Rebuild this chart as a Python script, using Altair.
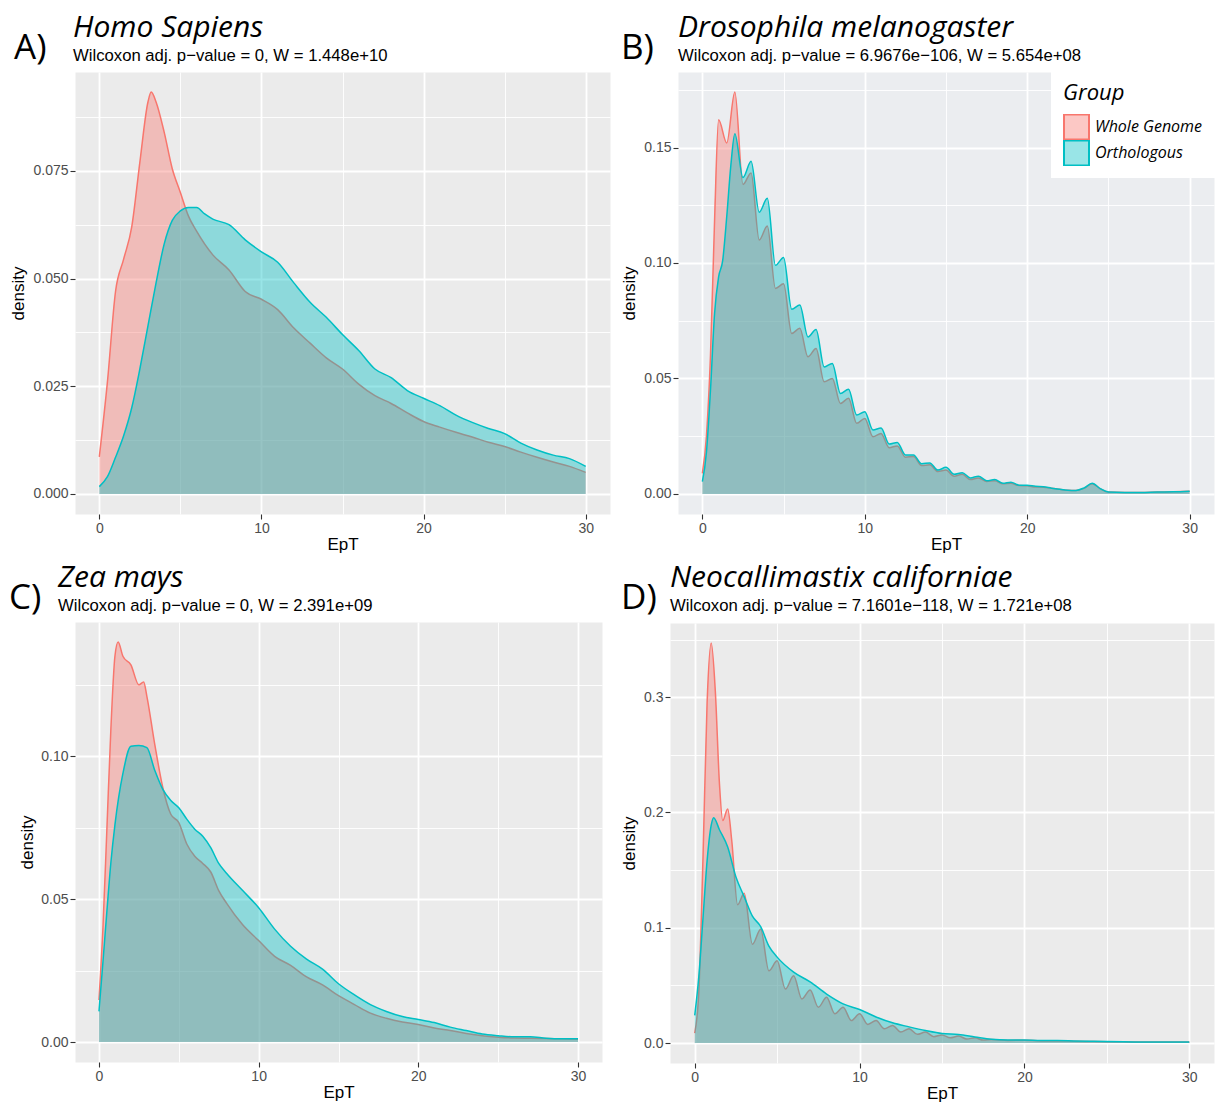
import altair as alt
import pandas as pd

GROUPS = ["Whole Genome", "Orthologous"]
FILL_COLORS = ["rgba(248,118,109,0.4)", "rgba(0,191,196,0.4)"]
LINE_COLORS = ["#F8766D", "#00BFC4"]

LETTERS = ["A)", "B)", "C)", "D)"]
TITLES = ["Homo Sapiens", "Drosophila melanogaster", "Zea mays", "Neocallimastix californiae"]
SUBTITLES = [
    "Wilcoxon adj. p\u2212value = 0, W = 1.448e+10",
    "Wilcoxon adj. p\u2212value = 6.9676e\u2212106, W = 5.654e+08",
    "Wilcoxon adj. p\u2212value = 0, W = 2.391e+09",
    "Wilcoxon adj. p\u2212value = 7.1601e\u2212118, W = 1.721e+08",
]
X_TICKS = [0, 10, 20, 30]
X_MINOR = [5, 15, 25]

# ---------------- Panel A: Homo Sapiens ----------------
a_wg_x = [0, 0.5, 1, 1.5, 2, 2.5, 3, 3.2, 3.5, 4, 4.5, 5, 5.5, 6, 7, 8, 9, 10, 11, 12, 13, 14, 15,
          16, 17, 18, 19, 20, 21, 22, 23, 24, 25, 26, 27, 28, 29, 30]
a_wg_y = [0.0086, 0.026, 0.047, 0.0545, 0.062, 0.077, 0.091, 0.0933, 0.091, 0.084, 0.0755, 0.070,
          0.0645, 0.061, 0.0555, 0.052, 0.047, 0.0452, 0.0428, 0.0385, 0.0350, 0.0316, 0.0290,
          0.0255, 0.0228, 0.0210, 0.0188, 0.0168, 0.0155, 0.0143, 0.0132, 0.0120, 0.0110,
          0.0097, 0.0085, 0.0074, 0.0064, 0.0050]
a_or_x = [0, 0.5, 1, 1.5, 2, 2.5, 3, 3.5, 4, 4.5, 5, 5.5, 6, 6.5, 7, 8, 9, 10, 11, 12, 13, 14, 15,
          16, 17, 18, 19, 20, 21, 22, 23, 24, 25, 26, 27, 28, 29, 30]
a_or_y = [0.0017, 0.004, 0.0085, 0.0135, 0.020, 0.029, 0.039, 0.049, 0.058, 0.0635, 0.0657, 0.0665,
          0.0665, 0.065, 0.0638, 0.0625, 0.059, 0.0562, 0.0538, 0.0490, 0.0445, 0.0410, 0.0370,
          0.0333, 0.0290, 0.0270, 0.0240, 0.0222, 0.0205, 0.0183, 0.0166, 0.0152, 0.0140,
          0.0118, 0.0102, 0.0090, 0.0082, 0.0064]
a_y_ticks = [0, 0.025, 0.05, 0.075]
a_y_minor = [0.0125, 0.0375, 0.0625, 0.0875]

# ---------------- Panel B: Drosophila melanogaster ----------------
b_wg_x = [0, 0.25, 0.5, 0.75, 1, 1.5, 2, 2.5, 3, 3.5, 4, 4.5, 5, 5.5, 6, 6.5, 7, 7.5, 8, 8.5, 9,
          9.5, 10, 10.5, 11, 11.5, 12, 12.5, 13, 13.5, 14, 14.5, 15, 15.5, 16, 16.5, 17, 17.5, 18,
          18.5, 19, 19.5, 20, 20.5, 21, 21.5, 22, 22.5, 23, 23.5, 24, 24.5, 25, 26, 27, 28, 29, 30]
b_wg_y = [0.0089, 0.025, 0.060, 0.118, 0.162, 0.152, 0.174, 0.134, 0.139, 0.110, 0.116, 0.089,
          0.091, 0.0695, 0.0717, 0.0594, 0.063, 0.0486, 0.050, 0.0392, 0.0414, 0.0306, 0.0327,
          0.0248, 0.0262, 0.020, 0.0208, 0.0159, 0.0162, 0.0123, 0.0126, 0.0097, 0.0103, 0.0077,
          0.0085, 0.0062, 0.0069, 0.0054, 0.0057, 0.0044, 0.0046, 0.0036, 0.0035, 0.0030, 0.0029,
          0.0024, 0.0020, 0.0016, 0.0015, 0.0024, 0.0044, 0.0022, 0.0008, 0.0006, 0.0006, 0.0008,
          0.0009, 0.0011]
b_or_x = [0, 0.25, 0.5, 0.75, 1, 1.25, 1.5, 1.75, 2, 2.5, 3, 3.5, 4, 4.5, 5, 5.5, 6, 6.5, 7, 7.5, 8,
          8.5, 9, 9.5, 10, 10.5, 11, 11.5, 12, 12.5, 13, 13.5, 14, 14.5, 15, 15.5, 16, 16.5, 17,
          17.5, 18, 18.5, 19, 19.5, 20, 20.5, 21, 21.5, 22, 22.5, 23, 23.5, 24, 24.5, 25, 26, 27,
          28, 29, 30]
b_or_y = [0.0053, 0.018, 0.045, 0.078, 0.094, 0.101, 0.120, 0.142, 0.156, 0.137, 0.144, 0.122,
          0.128, 0.099, 0.1024, 0.080, 0.0818, 0.068, 0.0712, 0.055, 0.0565, 0.0435, 0.0453,
          0.0342, 0.0356, 0.0277, 0.0285, 0.0216, 0.0223, 0.0169, 0.0169, 0.0131, 0.0134, 0.0103,
          0.0115, 0.0085, 0.0092, 0.0069, 0.0077, 0.0057, 0.0062, 0.0046, 0.0051, 0.0038, 0.0038,
          0.0033, 0.0031, 0.0025, 0.0020, 0.0016, 0.0015, 0.0026, 0.0046, 0.0023, 0.0008, 0.0006,
          0.0006, 0.0008, 0.0009, 0.0012]
b_y_ticks = [0, 0.05, 0.10, 0.15]
b_y_minor = [0.025, 0.075, 0.125, 0.175]

# ---------------- Panel C: Zea mays ----------------
c_wg_x = [0, 0.25, 0.5, 0.75, 1, 1.2, 1.5, 2, 2.5, 2.8, 3, 3.5, 4, 4.5, 5, 5.5, 6, 6.5, 7, 7.5, 8,
          9, 10, 11, 12, 13, 14, 15, 16, 17, 18, 19, 20, 21, 22, 23, 24, 25, 26, 27, 28, 29, 30]
c_wg_y = [0.0147, 0.040, 0.075, 0.110, 0.135, 0.140, 0.135, 0.132, 0.125, 0.126, 0.121, 0.104,
          0.089, 0.0797, 0.0768, 0.0693, 0.065, 0.0625, 0.0595, 0.0530, 0.0485, 0.0410, 0.0355,
          0.0300, 0.0268, 0.0228, 0.0200, 0.0162, 0.0131, 0.0101, 0.0083, 0.0070, 0.0061, 0.0049,
          0.0040, 0.0030, 0.0022, 0.0017, 0.0014, 0.0013, 0.0012, 0.0011, 0.0010]
c_or_x = [0, 0.25, 0.5, 0.75, 1, 1.5, 2, 2.5, 3, 3.5, 4, 4.5, 5, 5.5, 6, 6.5, 7, 7.5, 8, 9, 10, 11,
          12, 13, 14, 15, 16, 17, 18, 19, 20, 21, 22, 23, 24, 25, 26, 27, 28, 29, 30]
c_or_y = [0.0107, 0.028, 0.046, 0.063, 0.076, 0.094, 0.1035, 0.1038, 0.1030, 0.095, 0.0884, 0.0845,
          0.082, 0.078, 0.0745, 0.072, 0.068, 0.0625, 0.059, 0.0530, 0.0470, 0.0395, 0.0335,
          0.0290, 0.0255, 0.0204, 0.0165, 0.0131, 0.0107, 0.0089, 0.0079, 0.0068, 0.0052, 0.0040,
          0.0028, 0.0022, 0.0018, 0.0018, 0.0013, 0.0011, 0.0011]
c_y_ticks = [0, 0.05, 0.10]
c_y_minor = [0.025, 0.075, 0.125]

# ---------------- Panel D: Neocallimastix californiae ----------------
d_wg_x = [0, 0.25, 0.5, 0.75, 1, 1.25, 1.5, 1.7, 2, 2.25, 2.6, 3, 3.5, 4, 4.5, 5, 5.5, 6, 6.5, 7,
          7.5, 8, 8.5, 9, 9.5, 10, 10.5, 11, 11.5, 12, 12.5, 13, 13.5, 14, 14.5, 15, 15.5, 16,
          16.5, 17, 17.5, 18, 19, 20, 21, 22, 23, 24, 25, 26, 27, 28, 29, 30]
d_wg_y = [0.0086, 0.045, 0.16, 0.295, 0.347, 0.305, 0.225, 0.193, 0.203, 0.175, 0.120, 0.130,
          0.0856, 0.0986, 0.0626, 0.0713, 0.0468, 0.0583, 0.0382, 0.046, 0.031, 0.0397, 0.0253,
          0.031, 0.0195, 0.0253, 0.0161, 0.0195, 0.0124, 0.0152, 0.0095, 0.0124, 0.0075, 0.0095,
          0.0055, 0.0070, 0.0045, 0.0060, 0.0035, 0.0045, 0.0025, 0.0030, 0.0022, 0.0024, 0.0018,
          0.0018, 0.0015, 0.0013, 0.0011, 0.0010, 0.0009, 0.0008, 0.0008, 0.0008]
d_or_x = [0, 0.25, 0.5, 0.75, 1, 1.15, 1.5, 2, 2.5, 3, 3.5, 4, 4.5, 5, 6, 7, 8, 9, 10, 11, 12, 13,
          14, 15, 16, 17, 18, 19, 20, 21, 22, 23, 24, 25, 26, 27, 28, 29, 30]
d_or_y = [0.0239, 0.058, 0.108, 0.158, 0.189, 0.1954, 0.185, 0.170, 0.144, 0.127, 0.110, 0.101,
          0.084, 0.0745, 0.0615, 0.053, 0.0425, 0.034, 0.029, 0.0226, 0.0175, 0.014, 0.0108,
          0.0082, 0.0073, 0.0052, 0.0032, 0.0026, 0.0027, 0.0021, 0.0021, 0.0018, 0.0015, 0.0012,
          0.0010, 0.0009, 0.0008, 0.0008, 0.0008]
d_y_ticks = [0, 0.1, 0.2, 0.3]
d_y_minor = [0.05, 0.15, 0.25, 0.35]

GRID_MAJOR = 1.8
GRID_MINOR = 0.9


def panel(idx, wg_x, wg_y, or_x, or_y, y_ticks, y_minor, y_fmt, width, height,
          letter_xy, y_title_pad, title_dx=0, legend=None, bg="#EBEBEB"):
    df = pd.DataFrame({
        "EpT": wg_x + or_x,
        "density": wg_y + or_y,
        "Group": [GROUPS[0]] * len(wg_x) + [GROUPS[1]] * len(or_x),
    })
    ymax = max(wg_y + or_y)
    xsc = alt.Scale(domain=[-1.5, 31.5], nice=False, zero=False)
    ysc = alt.Scale(domain=[-0.05 * ymax, 1.05 * ymax], nice=False, zero=False)
    fsc = alt.Scale(domain=GROUPS, range=FILL_COLORS)
    ssc = alt.Scale(domain=GROUPS, range=LINE_COLORS)

    x_major = alt.Axis(values=X_TICKS, title="EpT", grid=True, gridWidth=GRID_MAJOR, format="d")
    y_major = alt.Axis(values=y_ticks, title="density", grid=True, gridWidth=GRID_MAJOR,
                       format=y_fmt, titlePadding=y_title_pad)
    x_minor = alt.Axis(values=X_MINOR, orient="top", grid=True, gridWidth=GRID_MINOR, labels=False,
                       ticks=False, domain=False, title=None)
    y_minor_ax = alt.Axis(values=y_minor, orient="right", grid=True, gridWidth=GRID_MINOR,
                          labels=False, ticks=False, domain=False, title=None)

    base = alt.Chart(df)

    def fill_enc():
        if legend is not None:
            return alt.Fill("Group:N", scale=fsc, legend=legend, sort=GROUPS)
        return alt.Fill("Group:N", scale=fsc, legend=None, sort=GROUPS)

    def stroke_enc():
        if legend is not None:
            return alt.Stroke("Group:N", scale=ssc, legend=legend, sort=GROUPS)
        return alt.Stroke("Group:N", scale=ssc, legend=None, sort=GROUPS)

    layers = []
    for gi, g in enumerate(GROUPS):
        if gi == 0:
            xa, ya = x_minor, y_minor_ax
        else:
            xa, ya = x_major, y_major
        area = base.transform_filter(alt.datum.Group == g).mark_area(interpolate="monotone").encode(
            x=alt.X("EpT:Q", scale=xsc, axis=xa),
            y=alt.Y("density:Q", scale=ysc, axis=ya, stack=None),
            y2=alt.datum(0),
            fill=fill_enc(),
        )
        line = base.transform_filter(alt.datum.Group == g).mark_line(
            interpolate="monotone", strokeWidth=1.5).encode(
            x=alt.X("EpT:Q", scale=xsc, axis=None),
            y=alt.Y("density:Q", scale=ysc, axis=None),
            stroke=stroke_enc(),
        )
        layers += [area, line]

    letter = alt.Chart(pd.DataFrame({"letter": [LETTERS[idx]]})).mark_text(
        font="Open Sans", fontSize=35, align="left", baseline="alphabetic", color="black"
    ).encode(x=alt.value(letter_xy[0]), y=alt.value(letter_xy[1]), text="letter:N")
    layers.append(letter)

    return alt.layer(*layers).resolve_axis(x="independent", y="independent").properties(
        width=width, height=height,
        title=alt.Title(TITLES[idx], subtitle=SUBTITLES[idx], dx=title_dx),
        view=alt.ViewBackground(fill=bg, stroke="transparent"),
    )


legend_b = alt.Legend(title="Group", orient="none", legendX=373, legendY=-1)

pA = panel(0, a_wg_x, a_wg_y, a_or_x, a_or_y, a_y_ticks, a_y_minor, ".3f", 535, 442,
           (-61, -13), 5, title_dx=-2)
pB = panel(1, b_wg_x, b_wg_y, b_or_x, b_or_y, b_y_ticks, b_y_minor, ".2f", 536, 442,
           (-57, -13), 5, legend=legend_b, bg="#EBEDF0")
pC = panel(2, c_wg_x, c_wg_y, c_or_x, c_or_y, c_y_ticks, c_y_minor, ".2f", 527, 440,
           (-66, -13), 4, title_dx=-17)
pD = panel(3, d_wg_x, d_wg_y, d_or_x, d_or_y, d_y_ticks, d_y_minor, ".1f", 544, 440,
           (-49, -14), 5)

RES = dict(x="independent", y="independent", fill="independent", stroke="independent")
chart = alt.concat(pA, pB, pC, pD, columns=2, align="none",
                   spacing={"row": 9, "column": 9}).resolve_scale(**RES)

chart = chart.configure(
    padding={"left": 0, "top": 4, "right": 0, "bottom": 0},
    background="white",
    font="Liberation Sans",
).configure_view(
    stroke="transparent",
).configure_axis(
    labelFont="Liberation Sans", labelFontSize=14, labelColor="#4D4D4D", labelPadding=2,
    tickColor="#333333", tickSize=5, tickWidth=1.1, domain=False,
    gridColor="white", titleFont="Liberation Sans", titleFontSize=17,
    titleFontWeight="normal", titleColor="black",
).configure_axisX(
    titlePadding=1,
).configure_title(
    font="Open Sans", fontStyle="italic", fontSize=30, fontWeight="normal", color="black",
    anchor="start", frame="group", offset=-34,
    subtitleFont="Liberation Sans", subtitleFontSize=16.7, subtitleColor="black", subtitlePadding=5,
).configure_legend(
    titleFont="Open Sans", titleFontStyle="italic", titleFontSize=22, titleFontWeight="normal",
    titleColor="black", labelFont="Open Sans", labelFontStyle="italic", labelFontSize=16,
    labelColor="black", symbolType="square", symbolSize=625, symbolStrokeWidth=2,
    fillColor="white", padding=12, rowPadding=0, clipHeight=26, titlePadding=9, labelOffset=5,
)

chart.save("out.html", embed_options={"renderer": "svg", "actions": False})
